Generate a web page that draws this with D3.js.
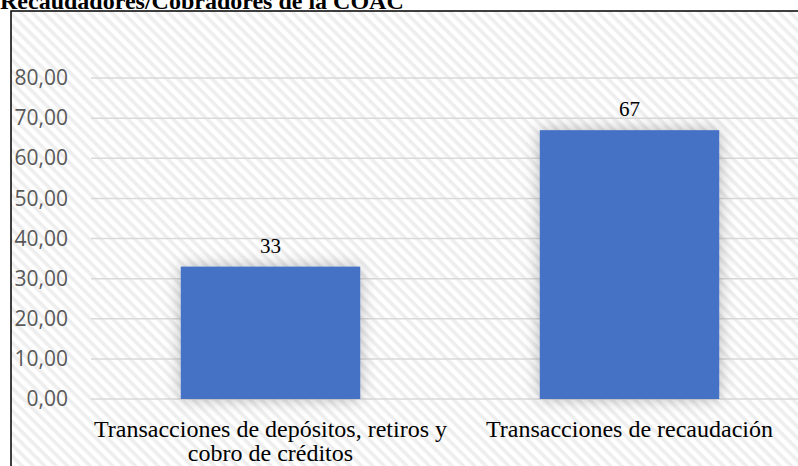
<html lang="es">
<head>
<meta http-equiv="Content-Type" content="text/html; charset=UTF-8">
<title>Recaudadores/Cobradores de la COAC</title>
<script type="text/javascript" src="https://cdn.jsdelivr.net/npm/d3@7"></script>
<style type="text/css">
body { margin: 0; background: #ffffff; }
svg { display: block; }
</style>
</head>
<body>

<script type="text/javascript">

var titulo = "Recaudadores/Cobradores de la COAC";
var categorias = [
    ["Transacciones de depósitos, retiros y", "cobro de créditos"],
    ["Transacciones de recaudación"]
];
var valores = [33, 67];
var ticksY = [0, 10, 20, 30, 40, 50, 60, 70, 80];

var W = 798, H = 466;

var svg = d3.select("body").append("svg")
    .attr("width", W)
    .attr("height", H);

var defs = svg.append("defs");

// fondo rayado diagonal
var pat = defs.append("pattern")
    .attr("id", "rayas")
    .attr("patternUnits", "userSpaceOnUse")
    .attr("width", 8)
    .attr("height", 8)
    .attr("patternTransform", "rotate(45)");
pat.append("rect").attr("width", 8).attr("height", 8).attr("fill", "#ffffff");
pat.append("rect").attr("width", 8).attr("height", 3.6).attr("fill", "#eeeeee");

// sombra de las barras
var f = defs.append("filter")
    .attr("id", "sombra")
    .attr("x", "-30%").attr("y", "-30%")
    .attr("width", "160%").attr("height", "160%");
f.append("feDropShadow")
    .attr("dx", 0).attr("dy", 0)
    .attr("stdDeviation", 8)
    .attr("flood-color", "#000000")
    .attr("flood-opacity", 0.28);

// titulo (cortado arriba)
svg.append("text")
    .attr("x", 0)
    .attr("y", 9)
    .attr("font-family", "Liberation Serif, Times New Roman, serif")
    .attr("font-weight", "bold")
    .attr("font-size", 24)
    .attr("fill", "#000000")
    .text(titulo);

// area del grafico
svg.append("rect")
    .attr("x", 11)
    .attr("y", 11)
    .attr("width", W)
    .attr("height", H)
    .attr("fill", "url(#rayas)")
    .attr("stroke", "#000000")
    .attr("stroke-width", 1.5);

var x = d3.scaleBand()
    .domain(d3.range(valores.length))
    .range([91, 809])
    .paddingInner(0.5)
    .paddingOuter(0.25);

var y = d3.scaleLinear()
    .domain([0, 80])
    .range([399, 78]);

// lineas de cuadricula
svg.selectAll("line.grid")
    .data(ticksY).enter().append("line")
    .attr("class", "grid")
    .attr("x1", 91)
    .attr("x2", W)
    .attr("y1", function(d){ return y(d); })
    .attr("y2", function(d){ return y(d); })
    .attr("stroke", "#d9d9d9")
    .attr("stroke-width", 1.5);

// eje Y
var fmt = function(d){ return d3.format(".2f")(d).replace(".", ","); };
var ejeY = svg.append("g")
    .attr("transform", "translate(68,0)")
    .call(d3.axisLeft(y).tickValues(ticksY).tickFormat(fmt).tickSize(0).tickPadding(0));
ejeY.select(".domain").remove();
ejeY.selectAll("text")
    .attr("font-family", "Open Sans, sans-serif")
    .attr("font-size", 21)
    .attr("fill", "#595959");

// barras
svg.selectAll("rect.barra")
    .data(valores).enter().append("rect")
    .attr("class", "barra")
    .attr("x", function(d, i){ return x(i); })
    .attr("y", function(d){ return y(d); })
    .attr("width", x.bandwidth())
    .attr("height", function(d){ return y(0) - y(d); })
    .attr("fill", "#4472c4")
    .attr("filter", "url(#sombra)");

// etiquetas de valor
svg.selectAll("text.valor")
    .data(valores).enter().append("text")
    .attr("class", "valor")
    .attr("x", function(d, i){ return x(i) + x.bandwidth() / 2; })
    .attr("y", function(d){ return y(d) - 14; })
    .attr("text-anchor", "middle")
    .attr("font-family", "Liberation Serif, Times New Roman, serif")
    .attr("font-size", 21)
    .attr("fill", "#000000")
    .text(function(d){ return d; });

// etiquetas de categoria
var cat = svg.selectAll("text.cat")
    .data(categorias).enter().append("text")
    .attr("class", "cat")
    .attr("text-anchor", "middle")
    .attr("font-family", "Liberation Serif, Times New Roman, serif")
    .attr("font-size", 24)
    .attr("fill", "#000000");
cat.selectAll("tspan")
    .data(function(d, i){ return d.map(function(t){ return { t: t, i: i }; }); })
    .enter().append("tspan")
    .attr("x", function(d){ return x(d.i) + x.bandwidth() / 2; })
    .attr("y", function(d, j){ return 437 + j * 24; })
    .text(function(d){ return d.t; });

</script>

</body>
</html>
